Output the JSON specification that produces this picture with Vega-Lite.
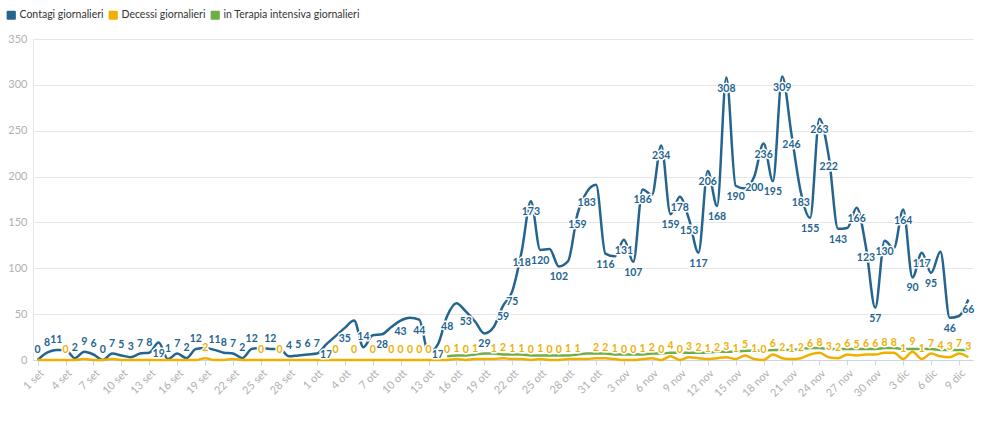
{
  "$schema": "https://vega.github.io/schema/vega-lite/v6.json",
  "width": 940,
  "height": 321,
  "autosize": {"type": "none"},
  "padding": {"left": 33, "top": 39, "right": 21, "bottom": 61},
  "background": "white",
  "config": {
    "font": "Lato",
    "view": {"stroke": null},
    "axis": {"labelFont": "Lato", "labelColor": "#b0b0b0", "labelFontSize": 11, "titleFont": "Lato"},
    "legend": {"labelFont": "Lato"}
  },
  "data": {
    "values": [
      {"giorno": "1 set", "Contagi giornalieri": 0, "Decessi giornalieri": 0},
      {"giorno": "2 set", "Contagi giornalieri": 8, "Decessi giornalieri": 0},
      {"giorno": "3 set", "Contagi giornalieri": 11, "Decessi giornalieri": 0},
      {"giorno": "4 set", "Contagi giornalieri": 11, "Decessi giornalieri": 0},
      {"giorno": "5 set", "Contagi giornalieri": 2, "Decessi giornalieri": 0},
      {"giorno": "6 set", "Contagi giornalieri": 9, "Decessi giornalieri": 1},
      {"giorno": "7 set", "Contagi giornalieri": 6, "Decessi giornalieri": 0},
      {"giorno": "8 set", "Contagi giornalieri": 0, "Decessi giornalieri": 0},
      {"giorno": "9 set", "Contagi giornalieri": 7, "Decessi giornalieri": 1},
      {"giorno": "10 set", "Contagi giornalieri": 5, "Decessi giornalieri": 0},
      {"giorno": "11 set", "Contagi giornalieri": 3, "Decessi giornalieri": 0},
      {"giorno": "12 set", "Contagi giornalieri": 7, "Decessi giornalieri": 0},
      {"giorno": "13 set", "Contagi giornalieri": 8, "Decessi giornalieri": 0},
      {"giorno": "14 set", "Contagi giornalieri": 19, "Decessi giornalieri": 0},
      {"giorno": "15 set", "Contagi giornalieri": 1, "Decessi giornalieri": 0},
      {"giorno": "16 set", "Contagi giornalieri": 7, "Decessi giornalieri": 0},
      {"giorno": "17 set", "Contagi giornalieri": 2, "Decessi giornalieri": 0},
      {"giorno": "18 set", "Contagi giornalieri": 12, "Decessi giornalieri": 0},
      {"giorno": "19 set", "Contagi giornalieri": 13, "Decessi giornalieri": 2},
      {"giorno": "20 set", "Contagi giornalieri": 11, "Decessi giornalieri": 0},
      {"giorno": "21 set", "Contagi giornalieri": 8, "Decessi giornalieri": 0},
      {"giorno": "22 set", "Contagi giornalieri": 7, "Decessi giornalieri": 1},
      {"giorno": "23 set", "Contagi giornalieri": 2, "Decessi giornalieri": 0},
      {"giorno": "24 set", "Contagi giornalieri": 12, "Decessi giornalieri": 0},
      {"giorno": "25 set", "Contagi giornalieri": 13, "Decessi giornalieri": 0},
      {"giorno": "26 set", "Contagi giornalieri": 12, "Decessi giornalieri": 0},
      {"giorno": "27 set", "Contagi giornalieri": 12, "Decessi giornalieri": 0},
      {"giorno": "28 set", "Contagi giornalieri": 4, "Decessi giornalieri": 0},
      {"giorno": "29 set", "Contagi giornalieri": 5, "Decessi giornalieri": 0},
      {"giorno": "30 set", "Contagi giornalieri": 6, "Decessi giornalieri": 0},
      {"giorno": "1 ott", "Contagi giornalieri": 7, "Decessi giornalieri": 0},
      {"giorno": "2 ott", "Contagi giornalieri": 17, "Decessi giornalieri": 0},
      {"giorno": "3 ott", "Contagi giornalieri": 26, "Decessi giornalieri": 0},
      {"giorno": "4 ott", "Contagi giornalieri": 35, "Decessi giornalieri": 0},
      {"giorno": "5 ott", "Contagi giornalieri": 43, "Decessi giornalieri": 0},
      {"giorno": "6 ott", "Contagi giornalieri": 14, "Decessi giornalieri": 0},
      {"giorno": "7 ott", "Contagi giornalieri": 27, "Decessi giornalieri": 0},
      {"giorno": "8 ott", "Contagi giornalieri": 28, "Decessi giornalieri": 0},
      {"giorno": "9 ott", "Contagi giornalieri": 36, "Decessi giornalieri": 0},
      {"giorno": "10 ott", "Contagi giornalieri": 43, "Decessi giornalieri": 0},
      {"giorno": "11 ott", "Contagi giornalieri": 46, "Decessi giornalieri": 0},
      {"giorno": "12 ott", "Contagi giornalieri": 44, "Decessi giornalieri": 0},
      {"giorno": "13 ott", "Contagi giornalieri": 8, "Decessi giornalieri": 0},
      {"giorno": "14 ott", "Contagi giornalieri": 17, "Decessi giornalieri": 0},
      {"giorno": "15 ott", "Contagi giornalieri": 48, "Decessi giornalieri": 0, "in Terapia intensiva giornalieri": 4},
      {"giorno": "16 ott", "Contagi giornalieri": 62, "Decessi giornalieri": 1, "in Terapia intensiva giornalieri": 5},
      {"giorno": "17 ott", "Contagi giornalieri": 53, "Decessi giornalieri": 0, "in Terapia intensiva giornalieri": 5},
      {"giorno": "18 ott", "Contagi giornalieri": 42, "Decessi giornalieri": 1, "in Terapia intensiva giornalieri": 6},
      {"giorno": "19 ott", "Contagi giornalieri": 29, "Decessi giornalieri": 1, "in Terapia intensiva giornalieri": 7},
      {"giorno": "20 ott", "Contagi giornalieri": 36, "Decessi giornalieri": 1, "in Terapia intensiva giornalieri": 7},
      {"giorno": "21 ott", "Contagi giornalieri": 59, "Decessi giornalieri": 2, "in Terapia intensiva giornalieri": 6},
      {"giorno": "22 ott", "Contagi giornalieri": 75, "Decessi giornalieri": 1, "in Terapia intensiva giornalieri": 6},
      {"giorno": "23 ott", "Contagi giornalieri": 118, "Decessi giornalieri": 1, "in Terapia intensiva giornalieri": 6},
      {"giorno": "24 ott", "Contagi giornalieri": 173, "Decessi giornalieri": 0, "in Terapia intensiva giornalieri": 5},
      {"giorno": "25 ott", "Contagi giornalieri": 120, "Decessi giornalieri": 1, "in Terapia intensiva giornalieri": 5},
      {"giorno": "26 ott", "Contagi giornalieri": 121, "Decessi giornalieri": 0, "in Terapia intensiva giornalieri": 5},
      {"giorno": "27 ott", "Contagi giornalieri": 102, "Decessi giornalieri": 0, "in Terapia intensiva giornalieri": 5},
      {"giorno": "28 ott", "Contagi giornalieri": 108, "Decessi giornalieri": 1, "in Terapia intensiva giornalieri": 5},
      {"giorno": "29 ott", "Contagi giornalieri": 159, "Decessi giornalieri": 1, "in Terapia intensiva giornalieri": 6},
      {"giorno": "30 ott", "Contagi giornalieri": 183, "Decessi giornalieri": 1, "in Terapia intensiva giornalieri": 7},
      {"giorno": "31 ott", "Contagi giornalieri": 191, "Decessi giornalieri": 2, "in Terapia intensiva giornalieri": 7},
      {"giorno": "1 nov", "Contagi giornalieri": 116, "Decessi giornalieri": 2, "in Terapia intensiva giornalieri": 7},
      {"giorno": "2 nov", "Contagi giornalieri": 113, "Decessi giornalieri": 1, "in Terapia intensiva giornalieri": 6},
      {"giorno": "3 nov", "Contagi giornalieri": 131, "Decessi giornalieri": 0, "in Terapia intensiva giornalieri": 6},
      {"giorno": "4 nov", "Contagi giornalieri": 107, "Decessi giornalieri": 0, "in Terapia intensiva giornalieri": 6},
      {"giorno": "5 nov", "Contagi giornalieri": 186, "Decessi giornalieri": 1, "in Terapia intensiva giornalieri": 6},
      {"giorno": "6 nov", "Contagi giornalieri": 180, "Decessi giornalieri": 2, "in Terapia intensiva giornalieri": 7},
      {"giorno": "7 nov", "Contagi giornalieri": 234, "Decessi giornalieri": 0, "in Terapia intensiva giornalieri": 7},
      {"giorno": "8 nov", "Contagi giornalieri": 159, "Decessi giornalieri": 4, "in Terapia intensiva giornalieri": 8},
      {"giorno": "9 nov", "Contagi giornalieri": 178, "Decessi giornalieri": 0, "in Terapia intensiva giornalieri": 8},
      {"giorno": "10 nov", "Contagi giornalieri": 153, "Decessi giornalieri": 3, "in Terapia intensiva giornalieri": 8},
      {"giorno": "11 nov", "Contagi giornalieri": 117, "Decessi giornalieri": 2, "in Terapia intensiva giornalieri": 8},
      {"giorno": "12 nov", "Contagi giornalieri": 206, "Decessi giornalieri": 1, "in Terapia intensiva giornalieri": 8},
      {"giorno": "13 nov", "Contagi giornalieri": 168, "Decessi giornalieri": 2, "in Terapia intensiva giornalieri": 9},
      {"giorno": "14 nov", "Contagi giornalieri": 308, "Decessi giornalieri": 3, "in Terapia intensiva giornalieri": 9},
      {"giorno": "15 nov", "Contagi giornalieri": 190, "Decessi giornalieri": 1, "in Terapia intensiva giornalieri": 9},
      {"giorno": "16 nov", "Contagi giornalieri": 187, "Decessi giornalieri": 5, "in Terapia intensiva giornalieri": 10},
      {"giorno": "17 nov", "Contagi giornalieri": 200, "Decessi giornalieri": 1, "in Terapia intensiva giornalieri": 10},
      {"giorno": "18 nov", "Contagi giornalieri": 236, "Decessi giornalieri": 0, "in Terapia intensiva giornalieri": 10},
      {"giorno": "19 nov", "Contagi giornalieri": 195, "Decessi giornalieri": 6, "in Terapia intensiva giornalieri": 11},
      {"giorno": "20 nov", "Contagi giornalieri": 309, "Decessi giornalieri": 2, "in Terapia intensiva giornalieri": 11},
      {"giorno": "21 nov", "Contagi giornalieri": 246, "Decessi giornalieri": 1, "in Terapia intensiva giornalieri": 11},
      {"giorno": "22 nov", "Contagi giornalieri": 183, "Decessi giornalieri": 2, "in Terapia intensiva giornalieri": 12},
      {"giorno": "23 nov", "Contagi giornalieri": 155, "Decessi giornalieri": 6, "in Terapia intensiva giornalieri": 13},
      {"giorno": "24 nov", "Contagi giornalieri": 263, "Decessi giornalieri": 8, "in Terapia intensiva giornalieri": 13},
      {"giorno": "25 nov", "Contagi giornalieri": 222, "Decessi giornalieri": 3, "in Terapia intensiva giornalieri": 12},
      {"giorno": "26 nov", "Contagi giornalieri": 143, "Decessi giornalieri": 2, "in Terapia intensiva giornalieri": 12},
      {"giorno": "27 nov", "Contagi giornalieri": 144, "Decessi giornalieri": 6, "in Terapia intensiva giornalieri": 12},
      {"giorno": "28 nov", "Contagi giornalieri": 166, "Decessi giornalieri": 5, "in Terapia intensiva giornalieri": 12},
      {"giorno": "29 nov", "Contagi giornalieri": 123, "Decessi giornalieri": 6, "in Terapia intensiva giornalieri": 12},
      {"giorno": "30 nov", "Contagi giornalieri": 57, "Decessi giornalieri": 6, "in Terapia intensiva giornalieri": 12},
      {"giorno": "1 dic", "Contagi giornalieri": 130, "Decessi giornalieri": 8, "in Terapia intensiva giornalieri": 13},
      {"giorno": "2 dic", "Contagi giornalieri": 122, "Decessi giornalieri": 8, "in Terapia intensiva giornalieri": 13},
      {"giorno": "3 dic", "Contagi giornalieri": 164, "Decessi giornalieri": 1, "in Terapia intensiva giornalieri": 12},
      {"giorno": "4 dic", "Contagi giornalieri": 90, "Decessi giornalieri": 9, "in Terapia intensiva giornalieri": 12},
      {"giorno": "5 dic", "Contagi giornalieri": 117, "Decessi giornalieri": 1, "in Terapia intensiva giornalieri": 12},
      {"giorno": "6 dic", "Contagi giornalieri": 95, "Decessi giornalieri": 7, "in Terapia intensiva giornalieri": 12},
      {"giorno": "7 dic", "Contagi giornalieri": 118, "Decessi giornalieri": 4, "in Terapia intensiva giornalieri": 11},
      {"giorno": "8 dic", "Contagi giornalieri": 46, "Decessi giornalieri": 3, "in Terapia intensiva giornalieri": 11},
      {"giorno": "9 dic", "Contagi giornalieri": 48, "Decessi giornalieri": 7, "in Terapia intensiva giornalieri": 11},
      {"giorno": "10 dic", "Contagi giornalieri": 66, "Decessi giornalieri": 3, "in Terapia intensiva giornalieri": 11}
    ]
  },
  "transform": [
    {"fold": ["Contagi giornalieri", "Decessi giornalieri", "in Terapia intensiva giornalieri"], "as": ["serie", "valore"]},
    {"filter": "isValid(datum.valore)"}
  ],
  "encoding": {
    "x": {
      "field": "giorno",
      "type": "ordinal",
      "sort": null,
      "scale": {
        "type": "point",
        "padding": 0.5,
        "domain": ["1 set","2 set","3 set","4 set","5 set","6 set","7 set","8 set","9 set","10 set","11 set","12 set","13 set","14 set","15 set","16 set","17 set","18 set","19 set","20 set","21 set","22 set","23 set","24 set","25 set","26 set","27 set","28 set","29 set","30 set","1 ott","2 ott","3 ott","4 ott","5 ott","6 ott","7 ott","8 ott","9 ott","10 ott","11 ott","12 ott","13 ott","14 ott","15 ott","16 ott","17 ott","18 ott","19 ott","20 ott","21 ott","22 ott","23 ott","24 ott","25 ott","26 ott","27 ott","28 ott","29 ott","30 ott","31 ott","1 nov","2 nov","3 nov","4 nov","5 nov","6 nov","7 nov","8 nov","9 nov","10 nov","11 nov","12 nov","13 nov","14 nov","15 nov","16 nov","17 nov","18 nov","19 nov","20 nov","21 nov","22 nov","23 nov","24 nov","25 nov","26 nov","27 nov","28 nov","29 nov","30 nov","1 dic","2 dic","3 dic","4 dic","5 dic","6 dic","7 dic","8 dic","9 dic","10 dic"]
      },
      "axis": {
        "title": null,
        "values": ["1 set","4 set","7 set","10 set","13 set","16 set","19 set","22 set","25 set","28 set","1 ott","4 ott","7 ott","10 ott","13 ott","16 ott","19 ott","22 ott","25 ott","28 ott","31 ott","3 nov","6 nov","9 nov","12 nov","15 nov","18 nov","21 nov","24 nov","27 nov","30 nov","3 dic","6 dic","9 dic"],
        "labelAngle": -45,
        "labelAlign": "right",
        "labelBaseline": "top",
        "labelPadding": 2,
        "tickColor": "#ccd6eb",
        "tickSize": 5,
        "domainColor": "#ccd6eb",
        "grid": false
      }
    },
    "y": {
      "field": "valore",
      "type": "quantitative",
      "scale": {"domain": [0, 350], "nice": false},
      "axis": {
        "title": null,
        "values": [0, 50, 100, 150, 200, 250, 300, 350],
        "ticks": false,
        "labelPadding": 6,
        "gridColor": "#e6e6e6",
        "domainColor": "#e6e6e6"
      }
    }
  },
  "layer": [
    {
      "mark": {"type": "line", "interpolate": "monotone", "strokeWidth": 2.5},
      "encoding": {
        "color": {
          "field": "serie",
          "type": "nominal",
          "scale": {
            "domain": ["Contagi giornalieri", "Decessi giornalieri", "in Terapia intensiva giornalieri"],
            "range": ["#24648f", "#f0b000", "#6fae45"]
          },
          "legend": {
            "title": null,
            "orient": "none",
            "legendX": -27,
            "legendY": -29,
            "direction": "horizontal",
            "gridAlign": "none",
            "symbolType": "M -0.75 -1 L 0.75 -1 Q 1 -1 1 -0.75 L 1 0.75 Q 1 1 0.75 1 L -0.75 1 Q -1 1 -1 0.75 L -1 -0.75 Q -1 -1 -0.75 -1 Z",
            "symbolSize": 85,
            "symbolStrokeWidth": 0,
            "symbolOpacity": 1,
            "labelFontSize": 10.5,
            "labelColor": "#333333",
            "columnPadding": 4,
            "labelOffset": 3,
            "encode": {
              "symbols": {"update": {"fill": {"scale": "color", "field": "value"}, "strokeWidth": {"value": 0}, "opacity": {"value": 1}}}
            }
          }
        }
      }
    },
    {
      "transform": [
        {"filter": {"field": "serie", "equal": "Contagi giornalieri"}},
        {"filter": "datum.valore >= 15"},
        {"filter": {"not": {"field": "giorno", "oneOf": ["4 set","19 set","25 set","27 set","3 ott","5 ott","7 ott","9 ott","11 ott","13 ott","16 ott","18 ott","20 ott","26 ott","28 ott","31 ott","2 nov","6 nov","16 nov","27 nov","2 dic","7 dic","9 dic"]}}}
      ],
      "layer": [
        {"mark": {"type": "text", "dy": 11, "fontSize": 10.5, "fontWeight": "bold", "stroke": "white", "strokeWidth": 3, "strokeJoin": "round"}, "encoding": {"text": {"field": "valore"}}},
        {"mark": {"type": "text", "dy": 11, "fontSize": 10.5, "fontWeight": "bold", "fill": "#24648f"}, "encoding": {"text": {"field": "valore"}}}
      ]
    },
    {
      "transform": [
        {"filter": {"field": "serie", "equal": "Contagi giornalieri"}},
        {"filter": "datum.valore < 15"},
        {"filter": {"not": {"field": "giorno", "oneOf": ["4 set","19 set","25 set","27 set","3 ott","5 ott","7 ott","9 ott","11 ott","13 ott","16 ott","18 ott","20 ott","26 ott","28 ott","31 ott","2 nov","6 nov","16 nov","27 nov","2 dic","7 dic","9 dic"]}}}
      ],
      "layer": [
        {"mark": {"type": "text", "dy": -10, "fontSize": 10.5, "fontWeight": "bold", "stroke": "white", "strokeWidth": 3, "strokeJoin": "round"}, "encoding": {"text": {"field": "valore"}}},
        {"mark": {"type": "text", "dy": -10, "fontSize": 10.5, "fontWeight": "bold", "fill": "#24648f"}, "encoding": {"text": {"field": "valore"}}}
      ]
    },
    {
      "transform": [
        {"filter": {"field": "serie", "equal": "Decessi giornalieri"}},
        {"filter": {"not": {"field": "giorno", "oneOf": ["1 set","2 set","3 set","5 set","6 set","7 set","8 set","9 set","10 set","11 set","12 set","13 set","14 set","15 set","16 set","17 set","18 set","20 set","21 set","22 set","23 set","24 set","26 set","28 set","29 set","30 set","1 ott","2 ott","4 ott","6 ott","8 ott","14 ott","19 ott","30 ott"]}}}
      ],
      "layer": [
        {"mark": {"type": "text", "dy": -10, "fontSize": 10.5, "fontWeight": "bold", "stroke": "white", "strokeWidth": 3, "strokeJoin": "round"}, "encoding": {"text": {"field": "valore"}}},
        {"mark": {"type": "text", "dy": -10, "fontSize": 10.5, "fontWeight": "bold", "fill": "#f0b000"}, "encoding": {"text": {"field": "valore"}}}
      ]
    }
  ]
}
